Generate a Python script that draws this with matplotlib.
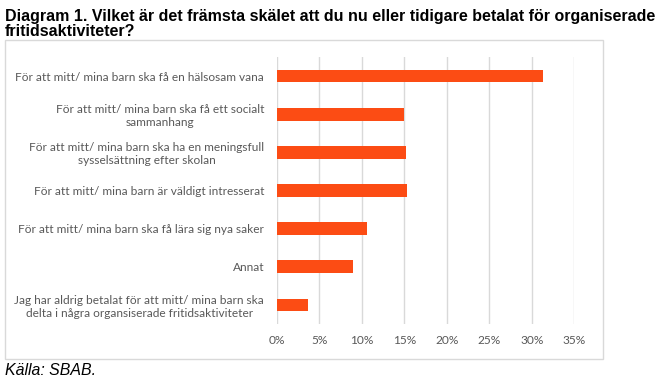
import matplotlib
matplotlib.use("Agg")
import matplotlib.pyplot as plt
from matplotlib.patches import Rectangle
from matplotlib.ticker import PercentFormatter

categories = [
    "För att mitt/ mina barn ska få en hälsosam vana",
    "För att mitt/ mina barn ska få ett socialt\nsammanhang",
    "För att mitt/ mina barn ska ha en meningsfull\nsysselsättning efter skolan",
    "För att mitt/ mina barn är väldigt intresserat",
    "För att mitt/ mina barn ska få lära sig nya saker",
    "Annat",
    "Jag har aldrig betalat för att mitt/ mina barn ska\ndelta i några organsiserade fritidsaktiviteter",
]
values = [31.3, 15.0, 15.2, 15.3, 10.6, 9.0, 3.7]
xticks = [0, 5, 10, 15, 20, 25, 30, 35]

W, H = 660, 379
fig = plt.figure(figsize=(W / 100, H / 100), dpi=100)

ax = fig.add_axes([276.7 / W, 1 - 324 / H, (574.3 - 276.7) / W, (324 - 57) / H])
y = list(range(len(categories)))
ax.barh(y, values, height=0.33, color="#FC4C14", zorder=3)
ax.set_ylim(len(categories) - 0.5, -0.5)
ax.set_xlim(0, 35)
ax.set_xticks(xticks)
ax.xaxis.set_major_formatter(PercentFormatter(decimals=0))
ax.set_yticks(y)
ax.set_yticklabels(categories, multialignment="center", ha="right", linespacing=1.2)
ax.grid(axis="x", color="#D9D9D9", linewidth=1, zorder=0)
for s in ax.spines.values():
    s.set_visible(False)
ax.tick_params(axis="both", length=0, labelsize=8.6, labelcolor="#595959")
ax.tick_params(axis="x", pad=8)
ax.tick_params(axis="y", pad=9)
for lab in ax.get_yticklabels() + ax.get_xticklabels():
    lab.set_fontfamily("Lato")

# chart border
fig.patches.append(Rectangle((5 / W, 1 - 358.5 / H), (603 - 5) / W, (358.5 - 40) / H,
                             transform=fig.transFigure, fill=False,
                             edgecolor="#D9D9D9", linewidth=1))

fig.text(5 / W, 1 - 36 / H,
         "Diagram 1. Vilket är det främsta skälet att du nu eller tidigare betalat för organiserade\nfritidsaktiviteter?",
         ha="left", va="baseline", fontsize=11.5, fontweight="bold", family="Liberation Sans",
         linespacing=1.02, color="black")
fig.text(5 / W, 1 - 375 / H, "Källa: SBAB.", ha="left", va="baseline", fontsize=11.4,
         style="italic", family="Liberation Sans", color="black")

fig.savefig("out.png", dpi=100)
